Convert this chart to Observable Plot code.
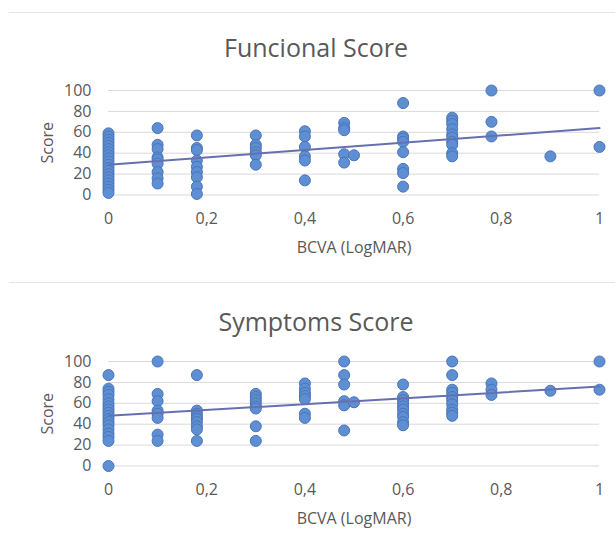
<!DOCTYPE html>
<html><head><meta charset="utf-8">
<script src="https://cdn.jsdelivr.net/npm/d3@7"></script>
<script src="https://cdn.jsdelivr.net/npm/@observablehq/plot@0.6"></script>
<style>
body{margin:0;background:#fff;font-family:"Open Sans",sans-serif;}
#wrap{position:relative;width:615px;height:553px;overflow:hidden;background:#fff;}
.sep{position:absolute;left:9px;width:606px;height:1px;background:#e4e4e4;}
.title{position:absolute;left:0;width:632px;text-align:center;font-size:25px;color:#595959;line-height:30px;white-space:nowrap;}
.panel{position:absolute;left:0;}
</style></head><body>
<div id="wrap">
  <div class="sep" style="top:12px"></div>
  <div class="title" style="top:32px">Funcional Score</div>
  <div class="panel" id="p1" style="top:70px"></div>
  <div class="sep" style="top:282px"></div>
  <div class="title" style="top:306px">Symptoms Score</div>
  <div class="panel" id="p2" style="top:341px"></div>
</div>
<script>
// BCVA (LogMAR) groups
const bcvaGroups = [0, 0.1, 0.18, 0.3, 0.4, 0.48, 0.5, 0.6, 0.7, 0.78, 0.9, 1];

// Funcional Score values per BCVA group (same order as bcvaGroups)
const functionalScores = [
  [59, 56, 53, 50, 47, 44, 41, 38, 35, 32, 29, 26, 23, 20, 17, 14, 11, 8, 5, 2],
  [64, 48, 44, 36, 34, 30, 22, 16, 11],
  [57, 45, 43, 33, 27, 22, 17, 8, 1],
  [57, 48, 45, 41, 38, 29],
  [61, 56, 46, 37, 33, 14],
  [69, 64, 62, 39, 31],
  [38],
  [88, 56, 54, 51, 41, 25, 21, 8],
  [74, 71, 68, 63, 58, 55, 51, 48, 40, 37],
  [100, 70, 56],
  [37],
  [100, 46]
];

// Symptoms Score values per BCVA group
const symptomsScores = [
  [87, 74, 71, 68, 64, 60, 57, 54, 51, 48, 45, 42, 39, 35, 31, 28, 24, 0],
  [100, 69, 62, 53, 50, 46, 30, 24],
  [87, 53, 50, 47, 45, 42, 38, 35, 24],
  [69, 66, 63, 60, 57, 55, 38, 24],
  [79, 74, 70, 67, 64, 50, 46],
  [100, 87, 78, 62, 58, 34],
  [61],
  [78, 66, 63, 60, 57, 54, 50, 47, 42, 39],
  [100, 87, 73, 70, 66, 63, 59, 54, 51, 48],
  [79, 73, 68],
  [72],
  [100, 73]
];

// Linear trend lines (score at BCVA 0 and 1)
const trendBCVA = [0, 1];
const functionalTrend = [29, 64];
const symptomsTrend = [48, 76];

// Axis ticks
const xTicks = [0, 0.2, 0.4, 0.6, 0.8, 1];
const xTickLabels = ["0", "0,2", "0,4", "0,6", "0,8", "1"];
const yTicks = [0, 20, 40, 60, 80, 100];

function flatten(groups) {
  const out = [];
  groups.forEach((vals, i) => vals.forEach(v => out.push({bcva: bcvaGroups[i], score: v})));
  return out;
}

function panel(groups, trend) {
  const pts = flatten(groups);
  const line = trendBCVA.map((b, i) => ({bcva: b, score: trend[i]}));
  return Plot.plot({
    width: 615,
    height: 200,
    marginLeft: 108,
    marginRight: 16,
    marginTop: 20,
    marginBottom: 75.5,
    style: {fontFamily: "Open Sans", fontSize: "16px", color: "#595959", background: "transparent", overflow: "visible"},
    x: {domain: [0, 1]},
    y: {domain: [0, 100]},
    marks: [
      Plot.gridY(yTicks, {stroke: "#d9d9d9", strokeOpacity: 1}),
      Plot.axisY({ticks: yTicks, tickSize: 0, tickPadding: 17, label: "Score", labelArrow: "none", labelAnchor: "center", labelOffset: 67}),
      Plot.axisX({ticks: xTicks, tickSize: 0, tickPadding: 18, tickFormat: d => xTickLabels[xTicks.indexOf(d)], label: "BCVA (LogMAR)", labelArrow: "none", labelAnchor: "center", labelOffset: 58}),
      Plot.dot(pts, {x: "bcva", y: "score", r: 5.5, fill: "#5f8fd3", stroke: "#4a74b8", strokeWidth: 1, fillOpacity: 1}),
      Plot.line(line, {x: "bcva", y: "score", stroke: "#6670b0", strokeWidth: 2})
    ]
  });
}

document.getElementById("p1").appendChild(panel(functionalScores, functionalTrend));
document.getElementById("p2").appendChild(panel(symptomsScores, symptomsTrend));
</script>
</body></html>
